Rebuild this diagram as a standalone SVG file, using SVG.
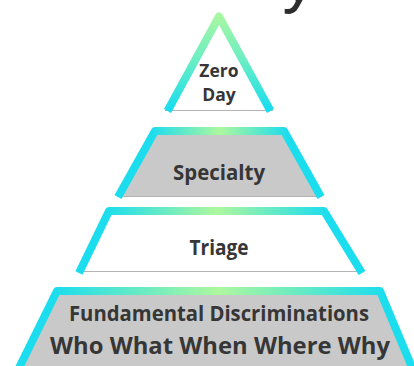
<svg xmlns="http://www.w3.org/2000/svg" width="414" height="366" viewBox="0 0 414 366">
  <style>
    .lbl { font-family: "Open Sans", "Lato", "Liberation Sans", sans-serif; font-weight: 700; fill: #363636; text-anchor: middle; }
    .edge { fill: none; stroke-width: 8; stroke-linejoin: round; stroke-linecap: butt; }
    .base { stroke: #b4b4b4; stroke-width: 1.2; fill: none; }
    .grayfill { fill: #c9c9c9; }
    .whitefill { fill: #ffffff; }
  </style>
  <defs>
    <linearGradient id="gTri" x1="0" y1="8" x2="0" y2="112" gradientUnits="userSpaceOnUse">
      <stop offset="0" stop-color="#b2f89c"/>
      <stop offset="0.5" stop-color="#6aeec4"/>
      <stop offset="1" stop-color="#14dcf0"/>
    </linearGradient>
    <linearGradient id="gSpec" x1="152" y1="0" x2="288" y2="0" gradientUnits="userSpaceOnUse">
      <stop offset="0" stop-color="#1cdded"/>
      <stop offset="0.5" stop-color="#aef79e"/>
      <stop offset="1" stop-color="#1cdded"/>
    </linearGradient>
    <linearGradient id="gTri2" x1="106" y1="0" x2="328" y2="0" gradientUnits="userSpaceOnUse">
      <stop offset="0" stop-color="#1cdded"/>
      <stop offset="0.5" stop-color="#aef79e"/>
      <stop offset="1" stop-color="#1cdded"/>
    </linearGradient>
    <linearGradient id="gFund" x1="54" y1="0" x2="384" y2="0" gradientUnits="userSpaceOnUse">
      <stop offset="0" stop-color="#1cdded"/>
      <stop offset="0.5" stop-color="#aef79e"/>
      <stop offset="1" stop-color="#1cdded"/>
    </linearGradient>
  </defs>

  <g id="title-fragment">
    <text x="289" y="1" style="font-family: 'Open Sans', 'Liberation Sans', sans-serif; font-weight: 600; font-style: italic; font-size: 52px; fill: #2e2e2e;">y</text>
  </g>

  <g id="node-zero-day">
    <polygon class="whitefill" points="219,16 167,110 271,110"/>
    <line class="base" x1="165" y1="110.5" x2="273" y2="110.5"/>
    <polyline class="edge" stroke="url(#gTri)" stroke-linejoin="miter" points="167.5,111 219,16.5 270.5,111"/>
    <text class="lbl" x="219" y="77" font-size="17.5">Zero</text>
    <text class="lbl" x="219" y="101" font-size="17.5">Day</text>
  </g>

  <g id="node-specialty">
    <polygon class="grayfill" points="119,196 155,131 284,131 320,196"/>
    <line class="base" x1="117" y1="196.5" x2="322" y2="196.5"/>
    <polyline class="edge" stroke="url(#gSpec)" points="118,197 155,131 284,131 321,197"/>
    <text class="lbl" x="219" y="180" font-size="21" textLength="92" lengthAdjust="spacingAndGlyphs">Specialty</text>
  </g>

  <g id="node-triage">
    <polygon class="whitefill" points="80,271 109,211 324,211 361,271"/>
    <line class="base" x1="78" y1="271.5" x2="363" y2="271.5"/>
    <polyline class="edge" stroke="url(#gTri2)" points="79,273 109,211 324,211 362,273"/>
    <text class="lbl" x="219" y="255" font-size="21" textLength="59" lengthAdjust="spacingAndGlyphs">Triage</text>
  </g>

  <g id="node-fundamental">
    <polygon class="grayfill" points="18,370 57,291 380,291 412,370"/>
    <polyline class="edge" stroke="url(#gFund)" points="17,372 57,291 380,291 414,372"/>
    <text class="lbl" x="219" y="321" font-size="20.5" textLength="300" lengthAdjust="spacingAndGlyphs">Fundamental Discriminations</text>
    <text class="lbl" x="220" y="354" font-size="23.5" textLength="340" lengthAdjust="spacingAndGlyphs">Who What When Where Why</text>
  </g>

  <g id="connectors"></g>
</svg>
